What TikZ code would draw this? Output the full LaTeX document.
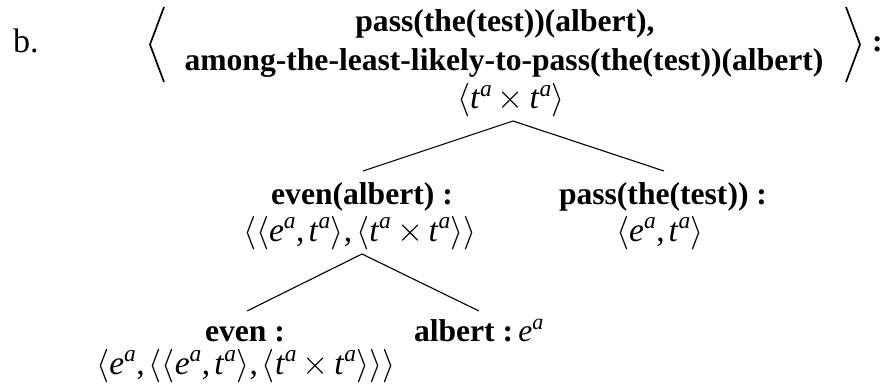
\RequirePackage{fix-cm}
\documentclass[tikz,border=0pt]{standalone}
\usepackage{fontspec}
\setmainfont{Liberation Serif}
\newcommand{\Ty}[1]{\textit{#1}\textsuperscript{\textit{a}}}
\newcommand{\lng}{\ensuremath{\langle}}
\newcommand{\rng}{\ensuremath{\rangle}}
\newcommand{\tms}{\ensuremath{\,\times\,}}
\newcommand{\cm}{,\kern0.12em}
\begin{document}
\begin{tikzpicture}[x=1pt,y=1pt,
  lbl/.style={inner sep=0pt,anchor=base,font=\fontsize{31.6}{36}\selectfont\bfseries},
  typ/.style={inner sep=0pt,anchor=base,font=\fontsize{33.5}{38}\selectfont},
  edge/.style={line width=1.1pt},
  brk/.style={line width=1.7pt,line join=miter}]
\useasboundingbox (0,0) rectangle (887,-385);
% label
\node[inner sep=0pt,anchor=base west,font=\fontsize{34}{38}\selectfont] (b) at (13,-53) {b.};
% root
\node[lbl] (l1) at (505,-32) {pass(the(test))(albert),};
\node[lbl] (l2) at (504,-71) {among-the-least-likely-to-pass(the(test))(albert)};
\coordinate (lbT) at (164,-7);
\coordinate (lbM) at (150,-44.5);
\coordinate (lbB) at (164,-82);
\coordinate (rbT) at (846,-7);
\coordinate (rbM) at (860,-44.5);
\coordinate (rbB) at (846,-82);
\draw[brk] (lbT) -- (lbM) -- (lbB);
\draw[brk] (rbT) -- (rbM) -- (rbB);
\node[lbl,anchor=base west] (col) at (872,-52) {:};
\node[typ] (tt) at (511,-109) {\lng\Ty{t}\tms\Ty{t}\rng};
% level 2
\node[lbl] (ea) at (362,-205) {even(albert) :};
\node[typ] (eaT) at (360,-241) {\lng\lng\Ty{e}\cm\Ty{t}\rng\cm\lng\Ty{t}\tms\Ty{t}\rng\rng};
\node[lbl] (pt) at (663,-205) {pass(the(test)) :};
\node[typ] (ptT) at (660,-241) {\lng\Ty{e}\cm\Ty{t}\rng};
% level 3
\node[lbl] (ev) at (245,-341) {even :};
\node[typ] (evT) at (246,-374) {\lng\Ty{e}\cm\lng\lng\Ty{e}\cm\Ty{t}\rng\cm\lng\Ty{t}\tms\Ty{t}\rng\rng\rng};
\node[lbl] (al) at (479,-341) {albert :\,\mdseries\Ty{e}};
% tree connectors
\coordinate (a1) at (513,-121);
\coordinate (a1l) at (363,-171);
\coordinate (a1r) at (664,-171);
\coordinate (a2) at (362,-254);
\coordinate (a2l) at (247,-311);
\coordinate (a2r) at (479,-311);
\draw[edge] (a1l) -- (a1) -- (a1r);
\draw[edge] (a2l) -- (a2) -- (a2r);
\end{tikzpicture}
\end{document}
